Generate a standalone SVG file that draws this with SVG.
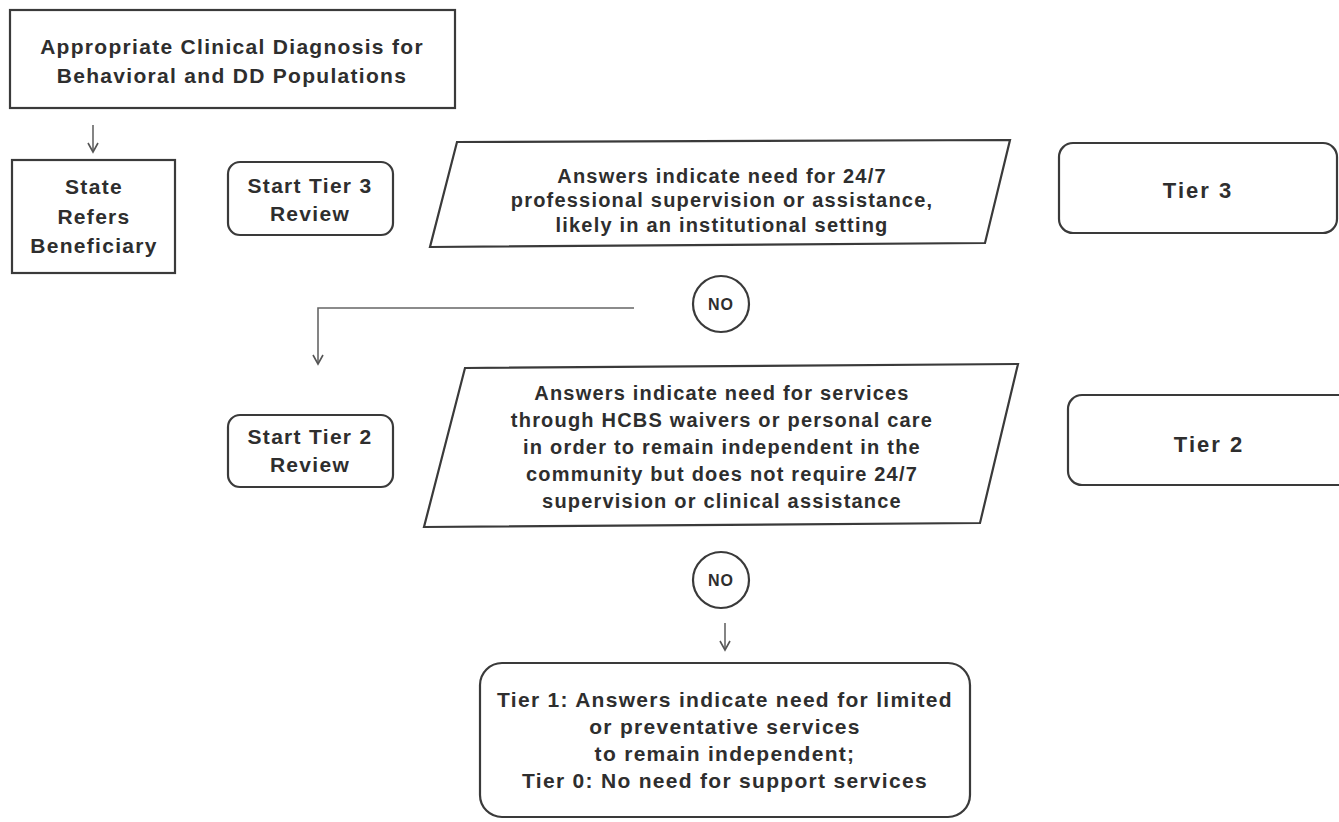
<svg xmlns="http://www.w3.org/2000/svg" width="1339" height="822" viewBox="0 0 1339 822">
<defs>
<marker id="arr" markerWidth="12" markerHeight="12" refX="10" refY="6" orient="auto" markerUnits="userSpaceOnUse" viewBox="0 0 12 12">
<path d="M1,1 L10,6 L1,11" fill="none" stroke="#555" stroke-width="1.6"/>
</marker>
</defs>
<style>
.box{fill:#fff;stroke:#3a3a3a;stroke-width:2.2}
.t{font-family:"Liberation Sans",Arial,sans-serif;font-weight:bold;font-size:21px;fill:#2e2e2e;text-anchor:middle;letter-spacing:1.3px}
.p{font-size:20px;letter-spacing:1.2px}
.tier{font-size:22px;letter-spacing:2px}
.s{font-size:16px;letter-spacing:1px}
.c{fill:none;stroke:#666;stroke-width:1.6}
</style>
<rect width="1339" height="822" fill="#fff"/>
<g id="connectors">
<path class="c" d="M93,125 L93,152" marker-end="url(#arr)"/>
<path class="c" d="M634,308 L318,308 L318,364" marker-end="url(#arr)"/>
<path class="c" d="M725,623 L725,650" marker-end="url(#arr)"/>
</g>
<g id="diagnosis">
<rect class="box" x="10" y="10" width="445" height="98"/>
<text class="t" x="232" y="54">Appropriate Clinical Diagnosis for</text>
<text class="t" x="232" y="83">Behavioral and DD Populations</text>
</g>
<g id="state-refers">
<rect class="box" x="12" y="160" width="163" height="113"/>
<text class="t" x="94" y="194">State</text>
<text class="t" x="94" y="224">Refers</text>
<text class="t" x="94" y="253">Beneficiary</text>
</g>
<g id="start-tier3">
<rect class="box" x="228" y="162" width="165" height="73" rx="12"/>
<text class="t" x="310" y="193">Start Tier 3</text>
<text class="t" x="310" y="221">Review</text>
</g>
<g id="question-tier3">
<path class="box" d="M457,142 L1010,140 L985,243 L430,247 Z"/>
<text class="t p" x="722" y="183">Answers indicate need for 24/7</text>
<text class="t p" x="722" y="207">professional supervision or assistance,</text>
<text class="t p" x="722" y="232">likely in an institutional setting</text>
</g>
<g id="tier3">
<rect class="box" x="1059" y="143" width="278" height="90" rx="14"/>
<text class="t tier" x="1198" y="198">Tier 3</text>
</g>
<g id="no1">
<circle class="box" cx="721" cy="304" r="28"/>
<text class="t s" x="721" y="310">NO</text>
</g>
<g id="start-tier2">
<rect class="box" x="228" y="415" width="165" height="72" rx="12"/>
<text class="t" x="310" y="444">Start Tier 2</text>
<text class="t" x="310" y="472">Review</text>
</g>
<g id="question-tier2">
<path class="box" d="M465,368 L1018,364 L980,523 L424,527 Z"/>
<text class="t p" x="722" y="400">Answers indicate need for services</text>
<text class="t p" x="722" y="427">through HCBS waivers or personal care</text>
<text class="t p" x="722" y="454">in order to remain independent in the</text>
<text class="t p" x="722" y="481">community but does not require 24/7</text>
<text class="t p" x="722" y="508">supervision or clinical assistance</text>
</g>
<g id="tier2">
<rect class="box" x="1068" y="395" width="285" height="90" rx="14"/>
<text class="t tier" x="1209" y="452">Tier 2</text>
</g>
<g id="no2">
<circle class="box" cx="721" cy="580" r="28"/>
<text class="t s" x="721" y="586">NO</text>
</g>
<g id="tier1">
<rect class="box" x="480" y="663" width="490" height="154" rx="22"/>
<text class="t" x="725" y="707">Tier 1: Answers indicate need for limited</text>
<text class="t" x="725" y="734">or preventative services</text>
<text class="t" x="725" y="761">to remain independent;</text>
<text class="t" x="725" y="788">Tier 0: No need for support services</text>
</g>
</svg>
